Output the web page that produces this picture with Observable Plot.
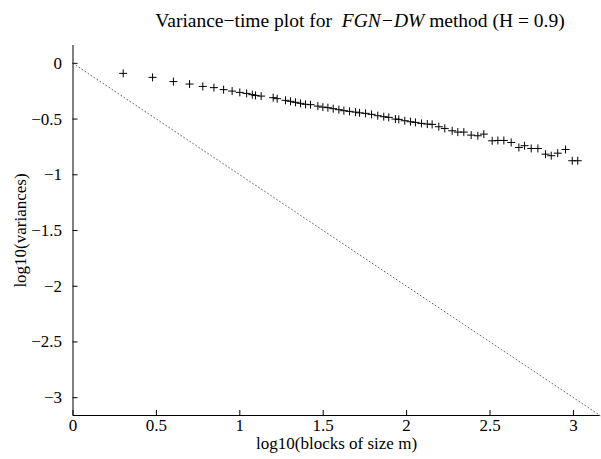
<!DOCTYPE html>
<html>
<head>
<meta charset="utf-8">
<script src="https://cdn.jsdelivr.net/npm/d3@7"></script>
<script src="https://cdn.jsdelivr.net/npm/@observablehq/plot@0.6"></script>
<style>
  html, body { margin: 0; padding: 0; background: #fff; }
  #wrap { position: relative; width: 601px; height: 459px; font-family: "Liberation Serif", "Times New Roman", serif; color: #000; }
  #title { position: absolute; top: 9px; left: 100px; width: 520px; text-align: center; font-size: 19.5px; line-height: 24px; white-space: pre; }
  #chart { position: absolute; top: 0; left: 0; }
  #chart svg, #chart svg text { font-family: "Liberation Serif", "Times New Roman", serif !important; }
</style>
</head>
<body>
<div id="wrap">
  <div id="chart"></div>
  <div id="title">Variance−time plot for  <i>FGN−DW</i> method (H = 0.9)</div>
</div>
<script>
// log10(m) for block sizes m
const logM = [0.301, 0.477, 0.602, 0.699, 0.778, 0.845, 0.903, 0.954, 1.000, 1.041,
  1.075, 1.094, 1.128, 1.200, 1.224, 1.274, 1.304, 1.334, 1.364, 1.394,
  1.424, 1.468, 1.498, 1.528, 1.560, 1.594, 1.624, 1.658, 1.694, 1.718,
  1.754, 1.790, 1.827, 1.863, 1.893, 1.933, 1.953, 1.989, 2.023, 2.053,
  2.089, 2.124, 2.153, 2.193, 2.229, 2.273, 2.307, 2.343, 2.387, 2.427,
  2.463, 2.513, 2.547, 2.583, 2.627, 2.673, 2.707, 2.747, 2.787, 2.833,
  2.867, 2.906, 2.953, 2.993, 3.026];
// log10(variance) of aggregated series
const logVar = [-0.090, -0.126, -0.164, -0.186, -0.207, -0.218, -0.236, -0.249, -0.261, -0.270,
  -0.281, -0.288, -0.294, -0.308, -0.317, -0.332, -0.341, -0.350, -0.359, -0.368,
  -0.371, -0.384, -0.393, -0.398, -0.407, -0.416, -0.425, -0.431, -0.438, -0.444,
  -0.449, -0.458, -0.470, -0.479, -0.485, -0.500, -0.503, -0.515, -0.524, -0.530,
  -0.539, -0.545, -0.548, -0.569, -0.584, -0.605, -0.617, -0.617, -0.644, -0.650,
  -0.635, -0.695, -0.692, -0.692, -0.710, -0.755, -0.739, -0.764, -0.764, -0.815,
  -0.829, -0.806, -0.773, -0.874, -0.874];
// reference line of slope -1
const refX = [0, 3.16];
const refY = [0, -3.16];
const xTicks = [0, 0.5, 1, 1.5, 2, 2.5, 3];
const yTicks = [0, -0.5, -1, -1.5, -2, -2.5, -3];
const xDomain = [0, 3.16];
const yDomain = [-3.16, 0.16];

const points = logM.map((x, i) => ({x, y: logVar[i]}));
const ref = refX.map((x, i) => ({x, y: refY[i]}));
const fmt = d3.format("~g");

const W = 601, H = 459, mL = 72.5, mR = 1.4, mT = 45, mB = 44;
const fw = W - mL - mR, fh = H - mT - mB;
const FF = '"Liberation Serif", "Times New Roman", serif';

const chart = Plot.plot({
  width: W, height: H,
  marginLeft: mL, marginRight: mR, marginTop: mT, marginBottom: mB,
  style: { fontFamily: FF, fontSize: "17px", background: "transparent", color: "#000", overflow: "visible" },
  x: { domain: xDomain },
  y: { domain: yDomain },
  marks: [
    Plot.axisX({ ticks: xTicks, tickFormat: fmt, tickSize: 0, tickPadding: 3, label: null, fontSize: 17, fontFamily: FF }),
    Plot.axisY({ ticks: yTicks, tickFormat: fmt, tickSize: 0, tickPadding: 11, label: null, fontSize: 17, fontFamily: FF }),
    Plot.tickX(xTicks, { x: d => d, insetTop: fh - 5, stroke: "#000", strokeWidth: 1 }),
    Plot.tickY(yTicks, { y: d => d, insetRight: fw - 5, stroke: "#000", strokeWidth: 1 }),
    Plot.line(ref, { x: "x", y: "y", stroke: "#555", strokeWidth: 0.9, strokeDasharray: "1,2.6" }),
    Plot.dot(points, { x: "x", y: "y", symbol: "plus", r: 2.7, stroke: "#000", strokeWidth: 1 }),
    Plot.ruleX([xDomain[0]], { stroke: "#000", strokeWidth: 1 }),
    Plot.ruleY([yDomain[0]], { stroke: "#000", strokeWidth: 1 }),
    Plot.text(["log10(blocks of size m)"], { frameAnchor: "bottom", dy: 28, textAnchor: "middle", lineAnchor: "middle", fontSize: 17, fontFamily: FF, fill: "#000", text: d => d }),
    Plot.text(["log10(variances)"], { frameAnchor: "left", dx: -52, rotate: -90, textAnchor: "middle", lineAnchor: "middle", fontSize: 17, fontFamily: FF, fill: "#000", text: d => d })
  ]
});
d3.select(chart).selectAll("text").style("font-family", FF);
document.getElementById("chart").appendChild(chart);
</script>
</body>
</html>
